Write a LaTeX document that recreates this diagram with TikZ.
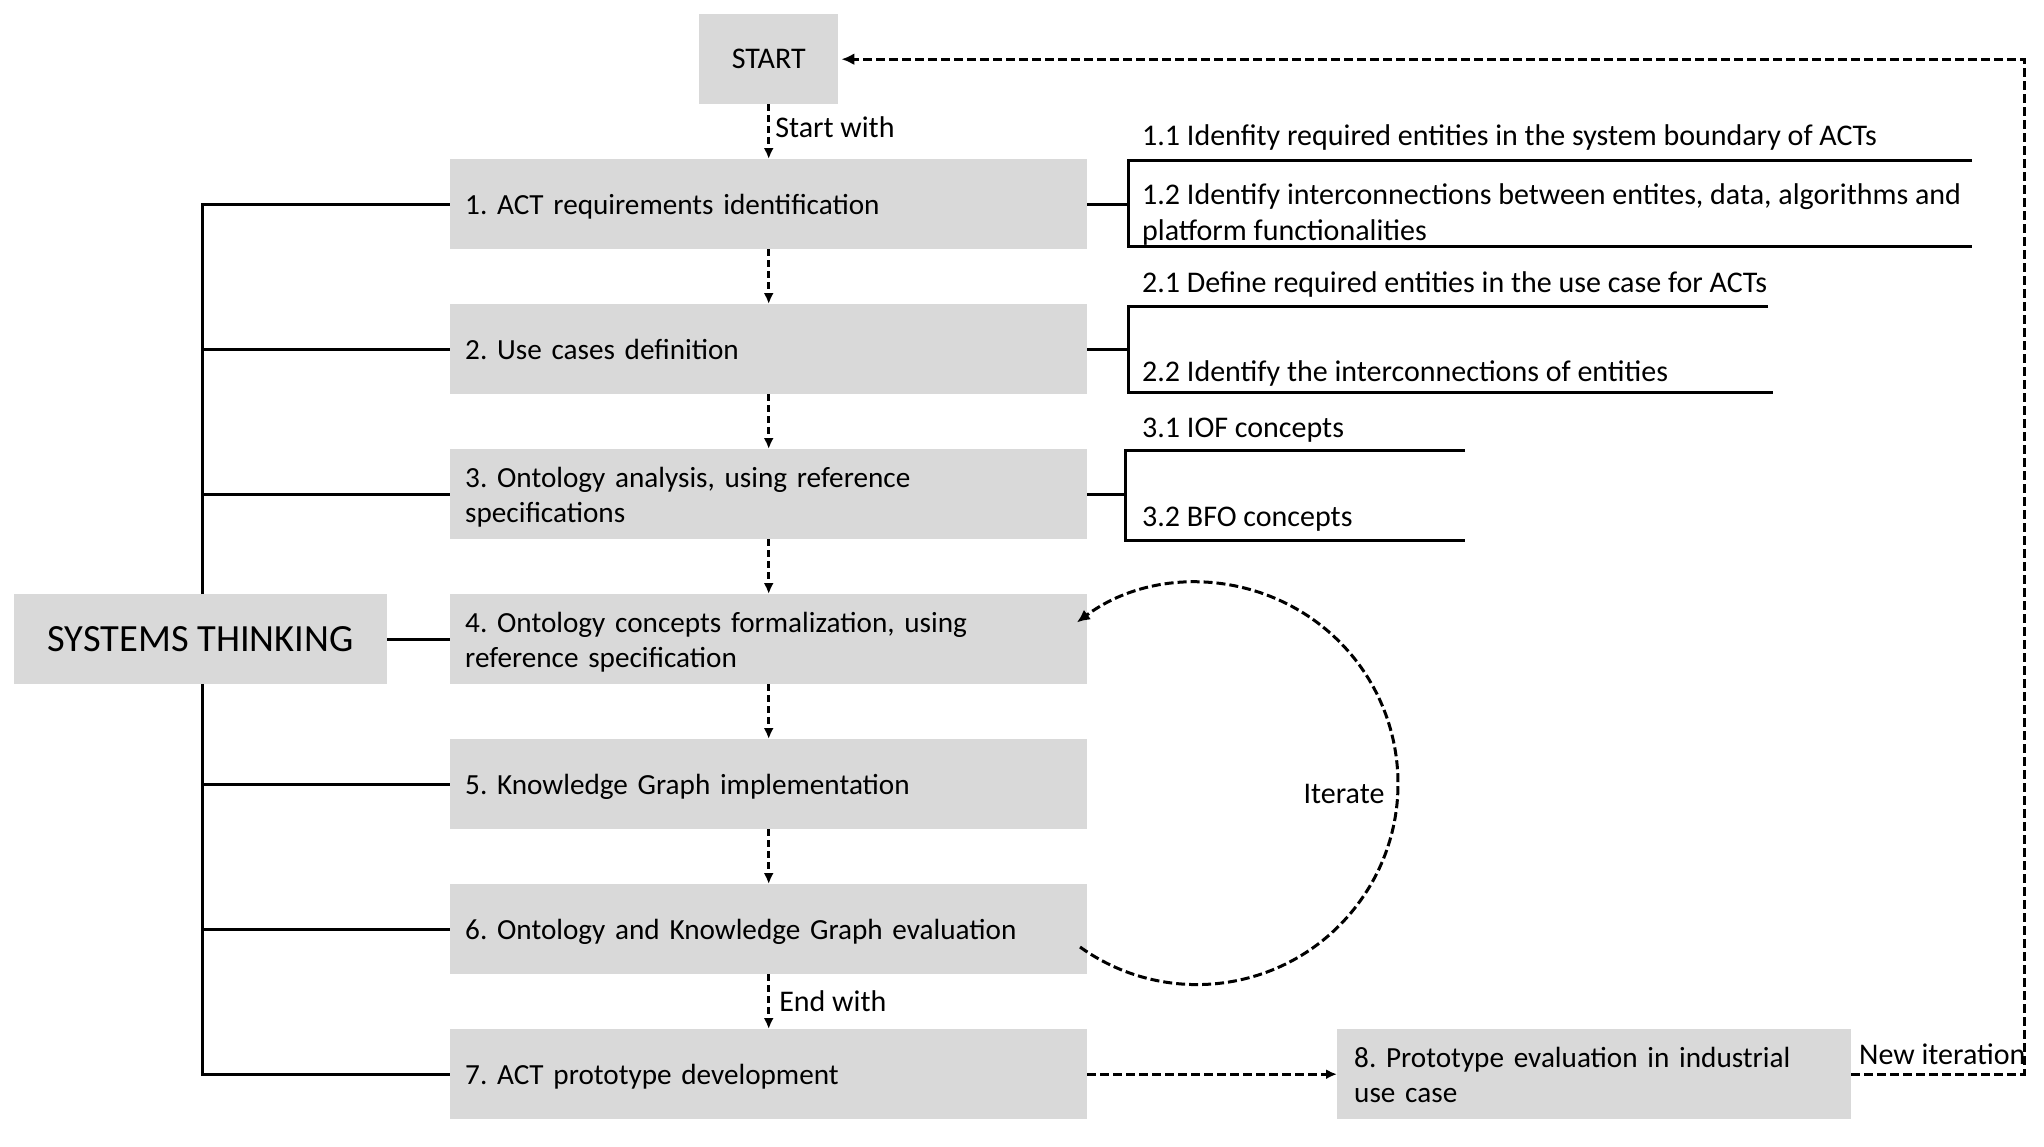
\documentclass[tikz,border=0pt]{standalone}
\usepackage{fontspec}
\setmainfont{Carlito}
\usetikzlibrary{arrows.meta}
\definecolor{boxgray}{HTML}{D9D9D9}
\begin{document}
\frenchspacing
\begin{tikzpicture}[x=1pt,y=1pt,
  txt/.style={font=\fontsize{30}{36}\selectfont},
  btxt/.style={font=\fontsize{29.2}{35}\selectfont},
  box/.style={btxt, fill=boxgray, draw=none, minimum height=90pt, text width=607pt,
    align=left, inner xsep=15pt, inner ysep=0pt, anchor=north west,
    text height=21pt, text depth=0pt},
  two/.style={text depth=35pt},
  sbox/.style={txt, fill=boxgray, draw=none, minimum height=90pt, inner sep=0pt, anchor=north west},
  solidln/.style={line width=3pt},
  dashln/.style={line width=2.5pt, dash pattern=on 7pt off 4pt},
  loopln/.style={line width=3pt, dash pattern=on 9pt off 4pt},
  arr/.style={dashln, -{Latex[length=11pt,width=10pt]}},
  looparr/.style={loopln, -{Latex[length=13pt,width=12pt]}},
  sub/.style={txt, anchor=base west, inner sep=0pt, align=left}
]
\useasboundingbox (0,0) rectangle (2044,-1146);

% main boxes
\node[sbox, minimum width=139pt] (start) at (699,-14) {START};
\node[box] (b1) at (450,-159) {1. ACT requirements identification};
\node[box] (b2) at (450,-304) {2. Use cases definition};
\node[box, two] (b3) at (450,-449) {3. Ontology analysis, using reference\\specifications};
\node[box, two] (b4) at (450,-594) {4. Ontology concepts formalization, using\\reference specification};
\node[box] (b5) at (450,-739) {5. Knowledge Graph implementation};
\node[box] (b6) at (450,-884) {6. Ontology and Knowledge Graph evaluation};
\node[box] (b7) at (450,-1029) {7. ACT prototype development};
\node[box, two, text width=480pt, inner xsep=17pt] (b8) at (1337,-1029) {8. Prototype evaluation in industrial\\use case};
\node[sbox, minimum width=373pt, font=\fontsize{38.5}{46}\selectfont] (st) at (14,-594) {SYSTEMS THINKING};

% systems thinking tree
\draw[solidln] (st.north -| 202,0) -- (202,0 |- b1.west) -- (b1.west);
\draw[solidln] (202,0 |- b2.west) -- (b2.west);
\draw[solidln] (202,0 |- b3.west) -- (b3.west);
\draw[solidln] (st.east) -- (st.east -| b4.west);
\draw[solidln] (st.south -| 202,0) -- (202,0 |- b7.west) -- (b7.west);
\draw[solidln] (202,0 |- b5.west) -- (b5.west);
\draw[solidln] (202,0 |- b6.west) -- (b6.west);

% flow arrows
\draw[arr] (start.south) -- node[txt, right, xshift=2pt, yshift=5pt] (sw) {Start with} (b1.north);
\draw[arr] (b1.south) -- (b2.north);
\draw[arr] (b2.south) -- (b3.north);
\draw[arr] (b3.south) -- (b4.north);
\draw[arr] (b4.south) -- (b5.north);
\draw[arr] (b5.south) -- (b6.north);
\draw[arr] (b6.south) -- node[txt, right, xshift=6pt, yshift=1pt] (ew) {End with} (b7.north);
\draw[loopln, -{Latex[length=11pt,width=10pt]}] (b7.east) -- (b8.west);

% new iteration loop
\coordinate (rc) at (2024,0);
\draw[looparr] (b8.east) -- (b8.east -| rc) -- (start.east -| rc) -- ([xshift=3pt]start.east);
\node[txt, anchor=base west, inner sep=0pt] (ni) at (1859,-1064) {New iteration};

% iterate arc
\coordinate (itS) at (1080,-947);
\draw[looparr] (itS) arc[start angle=234.4, end angle=486.7, radius=201];
\node[txt, anchor=center, inner sep=0pt] (it) at (1344,-794) {Iterate};

% sub-steps bracket 1
\coordinate (v1t) at (1128,-160);
\coordinate (v1b) at (1128,-246);
\draw[solidln] (b1.east) -- (b1.east -| v1t);
\draw[solidln] (1972,0 |- v1t) -- (v1t) -- (v1b) -- (1972,0 |- v1b);
\node[sub] (s11) at (1142,-145) {1.1 Idenfity required entities in the system boundary of ACTs};
\node[sub, anchor=north west] (s12) at (1142,-183) {1.2 Identify interconnections between entites, data, algorithms and\\platform functionalities};

% bracket 2
\coordinate (v2t) at (1128,-306);
\coordinate (v2b) at (1128,-392);
\draw[solidln] (b2.east) -- (b2.east -| v2t);
\draw[solidln] (1768,0 |- v2t) -- (v2t) -- (v2b) -- (1773,0 |- v2b);
\node[sub] (s21) at (1142,-292) {2.1 Define required entities in the use case for ACTs};
\node[sub] (s22) at (1142,-381) {2.2 Identify the interconnections of entities};

% bracket 3
\coordinate (v3t) at (1125,-450);
\coordinate (v3b) at (1125,-540);
\draw[solidln] (b3.east) -- (b3.east -| v3t);
\draw[solidln] (1465,0 |- v3t) -- (v3t) -- (v3b) -- (1465,0 |- v3b);
\node[sub] (s31) at (1142,-437) {3.1 IOF concepts};
\node[sub] (s32) at (1142,-526) {3.2 BFO concepts};
\end{tikzpicture}
\end{document}
